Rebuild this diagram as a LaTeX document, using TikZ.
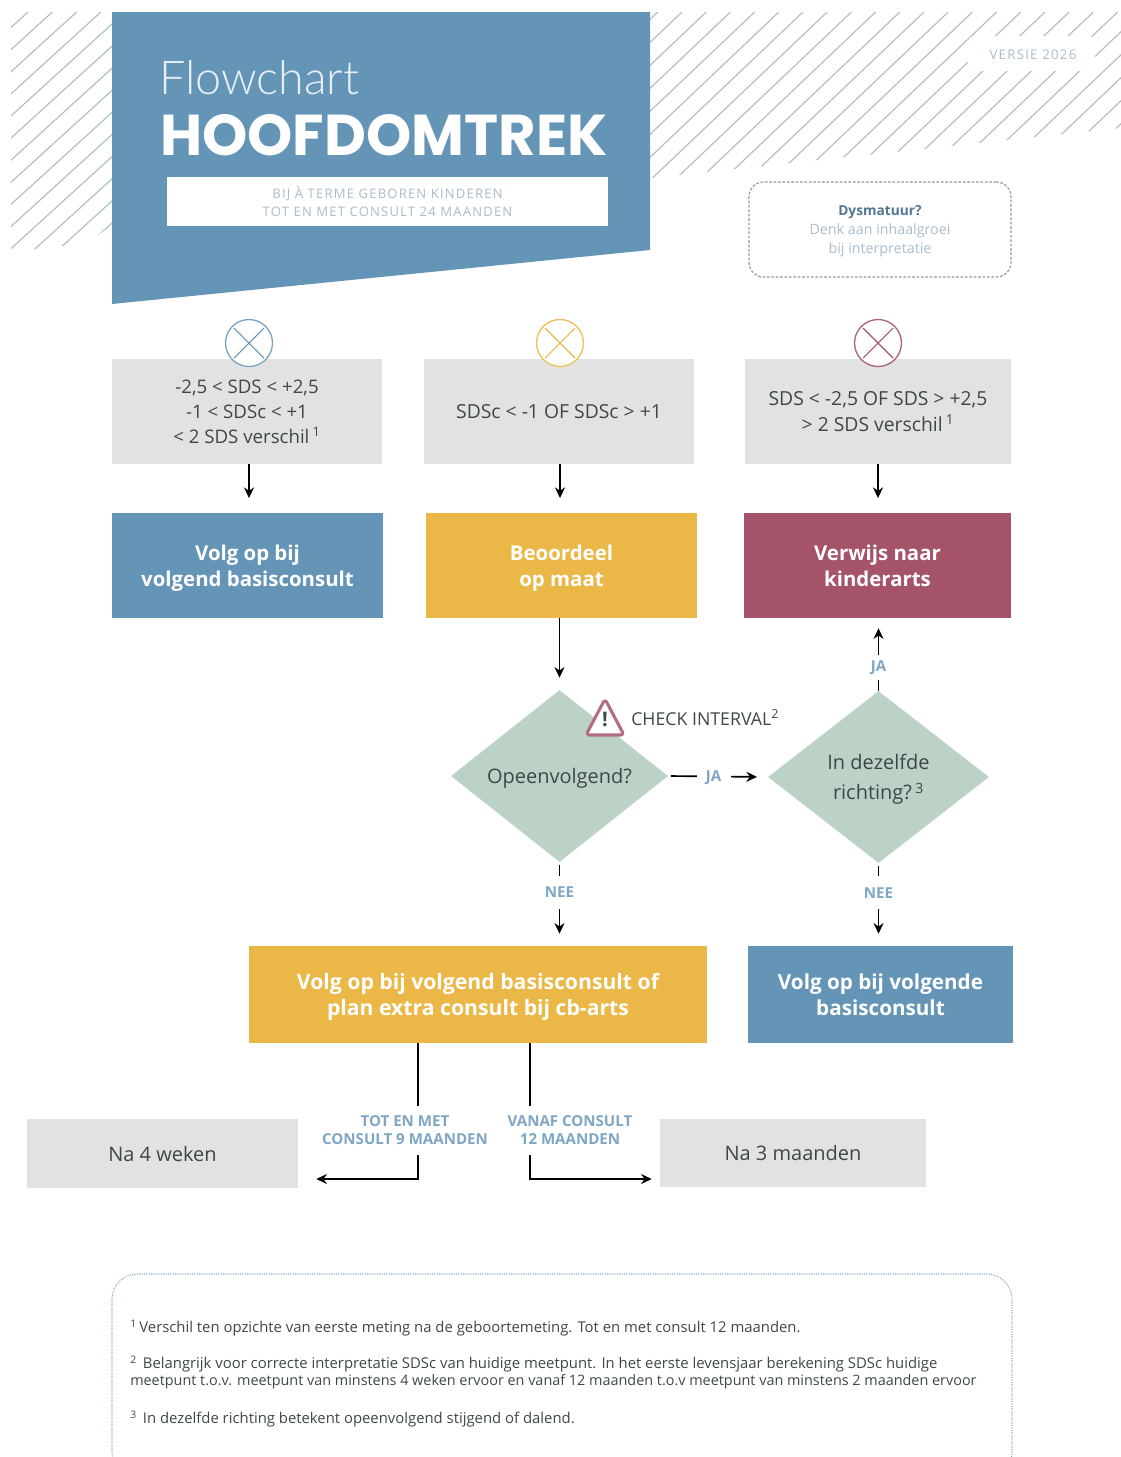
\documentclass[tikz,border=0pt]{standalone}
\usepackage{fontspec}
\usetikzlibrary{arrows.meta,shapes.geometric,calc}
\setmainfont{Open Sans}
\newfontfamily\titlefont{Poppins}
\newfontfamily\lightfont{Lato Light}
\newfontfamily\capsfont[LetterSpace=9]{Open Sans}
\definecolor{hblue}{HTML}{6595B6}
\definecolor{hyellow}{HTML}{EBB847}
\definecolor{hred}{HTML}{A4536A}
\definecolor{hgreen}{HTML}{BCD2C6}
\definecolor{hgrey}{HTML}{E2E2E2}
\definecolor{hlabel}{HTML}{7FA6C4}
\definecolor{hpale}{HTML}{A9BDCC}
\definecolor{htext}{HTML}{3E4748}
\definecolor{hhatch}{HTML}{B4BEC4}
\definecolor{hdash}{HTML}{8D9AA3}
\def\u{0.75pt}
\tikzset{
 x=0.75pt,y=-0.75pt,
 greybox/.style={fill=hgrey,text=htext,align=center,inner sep=0pt,font=\fontsize{14.5}{18.8}\selectfont},
 textdown/.style={text depth=-5pt},
 flowbox/.style={text=white,align=center,inner sep=0pt,text depth=0pt,font=\bfseries\fontsize{15.3}{19.5}\selectfont},
 widebox/.style={flowbox,font=\bfseries\fontsize{15.9}{19.5}\selectfont},
 question/.style={diamond,fill=hgreen,text=htext,align=center,inner sep=0pt,text depth=0pt,font=\fontsize{15}{23}\selectfont},
 edgelabel/.style={fill=white,text=hlabel,align=center,inner sep=0pt,font=\bfseries\fontsize{11.3}{13.5}\selectfont},
 flowline/.style={line width=1.25pt,black,-{Stealth[length=8pt,width=7.5pt]}},
 statecircle/.style={circle,fill=white,line width=1pt,minimum size=47*\u,inner sep=0pt},
 crossline/.style={line width=0.8pt},
 hatchline/.style={hhatch,line width=0.9pt},
 note/.style={anchor=west,inner sep=0pt,text=htext,font=\fontsize{11.15}{12}\selectfont},
}
\begin{document}
\begin{tikzpicture}
\useasboundingbox (0,0) rectangle (1121,1457);
% hatching
\begin{scope}
 \clip (11,12) -- (112,12) -- (112,225) -- (87,243) -- (40,249) -- (11,249) -- cycle;
 \foreach \k in {0,...,14} {
  \draw[hatchline] ({28+24.3*\k-300},{12+273}) -- ({28+24.3*\k},12);
 }
\end{scope}
\begin{scope}
 \clip (650,12) -- (1121,12) -- (1121,128) -- (650,178) -- cycle;
 \foreach \k in {-8,...,24} {
  \draw[hatchline] ({682+24.2*\k-190},{12+180.5}) -- ({682+24.2*\k},12);
 }
\end{scope}
\fill[white,rounded corners=5pt] (968,36) rectangle (1095,71);
\node[text=hpale,inner sep=0pt,font=\capsfont\fontsize{10}{12}\selectfont] (versie) at (1033,55) {VERSIE 2026};
% banner
\fill[hblue] (112,12) -- (650,12) -- (650,250) -- (112,304) -- cycle;
\node[anchor=base west,inner sep=0pt,text=white!85!hblue,font=\lightfont\fontsize{35}{36}\selectfont] (flow) at (159,94) {Flowchart};
\node[anchor=base west,inner sep=0pt,text=white,font=\titlefont\bfseries\fontsize{43.2}{44}\selectfont] (title) at (160,155) {HOOFDOMTREK};
\node[fill=white,minimum width=441*\u,minimum height=49*\u,inner sep=0pt,text=hpale,align=center,font=\capsfont\fontsize{9.8}{14.2}\selectfont] (sub) at (387.5,201.5) {BIJ À TERME GEBOREN KINDEREN\\TOT EN MET CONSULT 24 MAANDEN};
% dysmatuur
\node[draw=hdash,dash pattern=on 2pt off 1.3pt,line width=0.9pt,rounded corners=11pt,minimum width=262*\u,minimum height=95*\u,inner sep=0pt,text depth=-4pt,text=hpale,align=center,font=\fontsize{10.7}{14}\selectfont] (dys) at (880,229.5) {\textcolor{hblue!80!black}{\fontsize{10.3}{14}\selectfont\bfseries Dysmatuur?}\\Denk aan inhaalgroei\\bij interpretatie};
% criteria
\node[greybox,textdown,font=\fontsize{14}{18.8}\selectfont,minimum width=270*\u,minimum height=105*\u] (c1) at (247,411.5) {-2,5 < SDS < +2,5\\-1 < SDSc < +1\\< 2 SDS verschil\,\textsuperscript{1}};
\node[greybox,textdown,minimum width=270*\u,minimum height=105*\u] (c2) at (559,411.5) {SDSc < -1 OF SDSc > +1};
\node[greybox,textdown,minimum width=266*\u,minimum height=105*\u] (c3) at (878,411.5) {SDS < -2,5 OF SDS > +2,5\\> 2 SDS verschil\,\textsuperscript{1}};
% state circles
\node[statecircle,draw=hblue!85!white] (s1) at (249,343) {};
\node[statecircle,draw=hyellow!90!white] (s2) at (560,343) {};
\node[statecircle,draw=hred!90!white] (s3) at (878,343) {};
\foreach \n/\c in {s1/hblue,s2/hyellow,s3/hred} {
 \draw[crossline,\c] ($(\n)+(-15,-15)$) -- ($(\n)+(15,15)$);
 \draw[crossline,\c] ($(\n)+(-15,15)$) -- ($(\n)+(15,-15)$);
}
% action boxes
\node[flowbox,fill=hblue,minimum width=271*\u,minimum height=105*\u] (a1) at (247.5,565.5) {Volg op bij\\volgend basisconsult};
\node[flowbox,fill=hyellow,minimum width=271*\u,minimum height=105*\u] (a2) at (561.5,565.5) {Beoordeel\\op maat};
\node[flowbox,fill=hred,minimum width=267*\u,minimum height=105*\u] (a3) at (877.5,565.5) {Verwijs naar\\kinderarts};
% decisions
\node[question,minimum width=217*\u,minimum height=172*\u] (d1) at (559.5,776) {Opeenvolgend?};
\node[question,minimum width=221*\u,minimum height=172*\u] (d2) at (878.5,777) {In dezelfde\\richting?\,\textsuperscript{3}};
% warning
\coordinate (warn) at (605,717);
\draw[hred!85!white,fill=white,line width=2.3pt,rounded corners=2.5pt,line join=round] (605,699) -- (624,735) -- (586,735) -- cycle;
\node[inner sep=0pt,text=htext,font=\bfseries\fontsize{15}{15}\selectfont] (warnmark) at (605,719) {!};
\node[anchor=west,inner sep=0pt,text=htext,font=\fontsize{13.3}{14}\selectfont] (check) at (631,718) {CHECK INTERVAL\textsuperscript{2}};
% result boxes
\node[widebox,fill=hyellow,minimum width=458*\u,minimum height=97*\u] (b1) at (478,994.5) {Volg op bij volgend basisconsult of\\plan extra consult bij cb-arts};
\node[widebox,fill=hblue,font=\bfseries\fontsize{15.5}{19.5}\selectfont,minimum width=265*\u,minimum height=97*\u] (b2) at (880.5,994.5) {Volg op bij volgende\\basisconsult};
\node[greybox,textdown,font=\fontsize{15}{18.8}\selectfont,minimum width=271*\u,minimum height=69*\u] (n1) at (162.5,1153.5) {Na 4 weken};
\node[greybox,font=\fontsize{15}{18.8}\selectfont,minimum width=266*\u,minimum height=68*\u] (n2) at (793,1153) {Na 3 maanden};
% connectors
\draw[flowline,shorten >=11pt] (c1.south -| s1) -- (a1.north -| s1);
\draw[flowline,shorten >=11pt] (c2.south -| s2) -- (a2.north -| s2);
\draw[flowline,shorten >=11pt] (c3.south -| s3) -- (a3.north -| s3);
\draw[flowline,shorten >=9pt] (a2.south -| d1) -- (d1.north);
\draw[flowline,shorten <=2pt,shorten >=8pt] (d1.east) -- (d2.west) node[edgelabel,pos=0.455,yshift=-0.7pt,minimum width=34*\u,minimum height=16*\u] (ja1) {JA};
\draw[flowline,shorten >=7.5pt] (d2.north) -- (a3.south -| d2) node[edgelabel,pos=0.32,minimum width=20*\u,minimum height=25*\u] (ja2) {JA};
\draw[flowline,shorten <=2pt,shorten >=9pt] (d1.south) -- (b1.north -| d1) node[edgelabel,pos=0.36,minimum width=36*\u,minimum height=33*\u] (nee1) {NEE};
\draw[flowline,shorten <=2pt,shorten >=9pt] (d2.south) -- (b2.north -| d2) node[edgelabel,pos=0.36,minimum width=36*\u,minimum height=33*\u] (nee2) {NEE};
\coordinate (k1) at (418,1179);
\coordinate (k2) at (530,1179);
\draw[flowline,shorten >=13.5pt] (b1.south -| k1) -- (k1) -- (k1 -| n1.east);
\draw[flowline,shorten >=6pt] (b1.south -| k2) -- (k2) -- (k2 -| n2.west);
\node[edgelabel,minimum height=49*\u] (l1) at (405,1130) {TOT EN MET\\CONSULT 9 MAANDEN};
\node[edgelabel,minimum height=49*\u] (l2) at (570,1130) {VANAF CONSULT\\12 MAANDEN};
% footnotes
\begin{scope}
 \clip (100,1260) rectangle (1121,1457);
 \draw[hlabel,densely dotted,line width=0.8pt,rounded corners=19pt] (112,1274) rectangle (1012,1478);
\end{scope}
\node[note] (f1) at (130,1328) {\textsuperscript{1}\,Verschil ten opzichte van eerste meting na de geboortemeting. Tot en met consult 12 maanden.};
\node[note] (f2) at (130,1364) {\textsuperscript{2}\hspace{4.5pt}Belangrijk voor correcte interpretatie SDSc van huidige meetpunt. In het eerste levensjaar berekening SDSc huidige};
\node[note,font=\fontsize{10.8}{12}\selectfont] (f2b) at (130,1382) {meetpunt t.o.v. meetpunt van minstens 4 weken ervoor en vanaf 12 maanden t.o.v meetpunt van minstens 2 maanden ervoor};
\node[note] (f3) at (130,1419) {\textsuperscript{3}\hspace{4.5pt}In dezelfde richting betekent opeenvolgend stijgend of dalend.};
\end{tikzpicture}
\end{document}
